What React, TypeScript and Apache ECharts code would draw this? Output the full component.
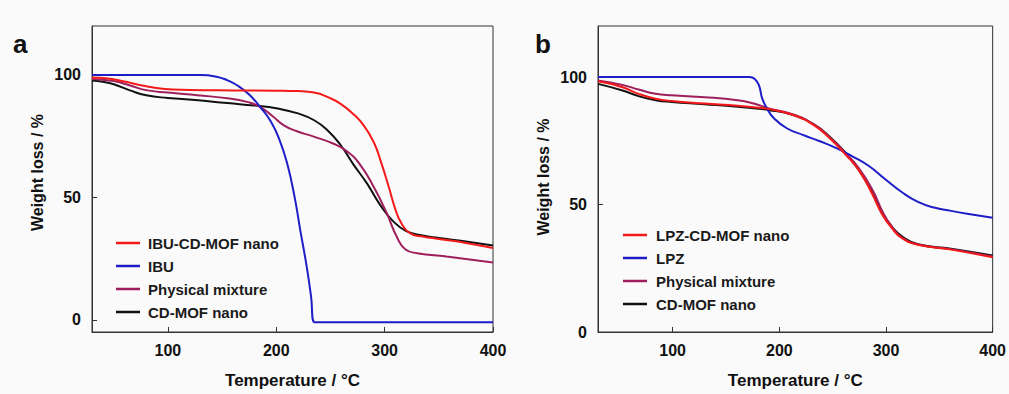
import React, { useEffect, useRef } from "react";
import * as echarts from "echarts";

const FONT = "'Liberation Sans', Arial, sans-serif";

const xTicks = [100, 200, 300, 400];
const yTicks = [0, 50, 100];

// Panel a
const ibuCdMof: [number, number][] = [[30,99],[45,98.6],[60,97.3],[75,95.8],[95,94.4],[120,93.9],[160,93.7],[200,93.6],[220,93.4],[235,92.8],[250,90.5],[260,88],[270,84.5],[280,79.8],[290,72.5],[297,64],[304,54],[310,45],[316,39],[324,35.2],[335,34],[350,33],[375,31.4],[400,29.3]];
const ibu: [number, number][] = [[30,100],[130,100],[145,99.3],[155,97.8],[165,95.5],[175,92],[185,87],[195,81],[203,73.5],[210,64],[217,50],[222,37],[228,22],[232,10],[235.5,-1],[400,-1]];
const physA: [number, number][] = [[30,98.4],[50,97.5],[65,95.7],[80,93.8],[100,92.8],[127,91.7],[157,90.4],[173,89],[185,87],[197,83],[207,79.4],[219,77],[234,74.9],[253,71.9],[265,68.9],[277,63.6],[290,54.2],[302,43.5],[311,34.1],[319,28.8],[330,27.2],[357,25.8],[400,23.4]];
const cdMofA: [number, number][] = [[30,97.7],[40,97.2],[50,96.2],[65,93.7],[80,91.7],[100,90.6],[125,89.8],[155,88.5],[180,87.5],[200,86.4],[220,84.3],[235,81.5],[247,77.5],[259,71.6],[271,63.6],[284,55.5],[296,46.8],[308,40.2],[320,36.2],[335,34.4],[350,33.4],[375,32],[400,30.3]];

// Panel b
const lpzCdMof: [number, number][] = [[30,98.3],[53,96],[68,93.4],[84,91.5],[99,90.6],[130,89.6],[161,88.7],[191,87.4],[213,85.1],[232,81.2],[247,76.1],[262,69.6],[275,63.2],[287,54.2],[296,46.4],[305.5,40.7],[315,36.8],[330,34.2],[361,32.3],[400,29.3]];
const lpz: [number, number][] = [[30,100],[172,100],[177,99.2],[181,96.6],[184,91.5],[188.5,87.6],[195,83.8],[207,79.9],[222,77.3],[238,74.8],[253,72.2],[268,69],[284,65.1],[299,60],[315,54.8],[330,51],[345,48.8],[361,47.5],[376,46.4],[400,44.8]];
const physB: [number, number][] = [[30,98.6],[53,96.9],[68,95.1],[84,93.4],[99,92.8],[130,92.1],[161,90.9],[176,89.6],[191,87.6],[213,85.3],[232,81.5],[247,76.5],[262,70.2],[275,64],[288,55.2],[297,47],[306,41],[315,37],[330,34.3],[361,32.5],[400,29.6]];
const cdMofB: [number, number][] = [[30,97.3],[53,94.7],[68,92.5],[84,90.9],[99,90.2],[130,89.3],[161,88.3],[191,87],[213,85.1],[232,81.5],[247,76.7],[262,70.3],[275,63.2],[287,54.8],[296,47.1],[305.5,41.3],[315,37.5],[330,34.4],[361,32.7],[400,30]];

const legendA = ["IBU-CD-MOF nano", "IBU", "Physical mixture", "CD-MOF nano"];
const legendB = ["LPZ-CD-MOF nano", "LPZ", "Physical mixture", "CD-MOF nano"];

const RED = "#f41a1a";
const BLUE = "#1e1ec8";
const MAROON = "#9e1f5c";
const BLACK = "#111111";

export default function App() {
  const ref = useRef<HTMLDivElement>(null);
  useEffect(() => {
    if (!ref.current) return;
    const chart = echarts.init(ref.current, undefined, { renderer: "svg" });
    const axisCommonX = (gi: number) => ({
      gridIndex: gi,
      type: "value",
      min: 30,
      max: 400,
      axisLine: { show: true, onZero: false, lineStyle: { color: "#333", width: 1 } },
      axisTick: { show: true, inside: true, length: 5, customValues: xTicks, lineStyle: { color: "#333" } },
      axisLabel: { customValues: xTicks, fontSize: 16, fontWeight: "bold", color: "#111", margin: 10, fontFamily: FONT },
      splitLine: { show: false },
      name: "Temperature / °C",
      nameLocation: "middle",
      nameGap: 40,
      nameTextStyle: { fontSize: 17, fontWeight: "bold", color: "#111", fontFamily: FONT },
    });
    const axisCommonY = (gi: number, min: number) => ({
      gridIndex: gi,
      type: "value",
      min,
      max: 120,
      axisLine: { show: true, onZero: false, lineStyle: { color: "#333", width: 1 } },
      axisTick: { show: true, inside: true, length: 5, customValues: yTicks, lineStyle: { color: "#333" } },
      axisLabel: { customValues: yTicks, fontSize: 16, fontWeight: "bold", color: "#111", margin: 11, fontFamily: FONT },
      splitLine: { show: false },
    });
    const line = (name: string, data: [number, number][], color: string, gi: number) => ({
      name,
      type: "line",
      xAxisIndex: gi,
      yAxisIndex: gi,
      data,
      showSymbol: false,
      symbol: "none",
      smooth: 0.5,
      color,
      lineStyle: { width: 2, color },
    });
    const legendCommon = {
      orient: "vertical",
      icon: "rect",
      itemWidth: 24,
      itemHeight: 2.5,
      itemGap: 5,
      selectedMode: false,
    };
    chart.setOption({
      animation: false,
      backgroundColor: "#fafafa",
      grid: [
        { left: 92, top: 26, width: 401, height: 311, show: true, borderColor: "#333", borderWidth: 1, backgroundColor: "transparent" },
        { left: 598, top: 26, width: 401, height: 311, show: true, borderColor: "#333", borderWidth: 1, backgroundColor: "transparent" },
      ],
      xAxis: [axisCommonX(0), axisCommonX(1)],
      yAxis: [axisCommonY(0, -5), axisCommonY(1, 0)],
      legend: [
        {
          ...legendCommon,
          left: 111,
          top: 229,
          data: legendA,
          textStyle: { fontSize: 15, fontWeight: "bold", color: "#1a1a1a", fontFamily: FONT, lineHeight: 18, padding: [0, 0, 0, 3] },
        },
        {
          ...legendCommon,
          left: 618,
          top: 221,
          data: legendB,
          textStyle: { fontSize: 15, fontWeight: "bold", color: "#1a1a1a", fontFamily: FONT, lineHeight: 18, padding: [0, 0, 0, 4] },
        },
      ],
      graphic: [
        { type: "text", x: 13, y: 57, style: { text: "a", font: `bold 26px ${FONT}`, fill: "#111", verticalAlign: "bottom" } },
        { type: "text", x: 535, y: 57, style: { text: "b", font: `bold 26px ${FONT}`, fill: "#111", verticalAlign: "bottom" } },
        { type: "text", x: 37, y: 172.5, rotation: Math.PI / 2, style: { text: "Weight loss / %", font: `bold 16px ${FONT}`, fill: "#111", align: "center", verticalAlign: "middle" } },
        { type: "text", x: 543, y: 177, rotation: Math.PI / 2, style: { text: "Weight loss / %", font: `bold 16px ${FONT}`, fill: "#111", align: "center", verticalAlign: "middle" } },
      ],
      series: [
        line("CD-MOF nano", cdMofA, BLACK, 0),
        line("Physical mixture", physA, MAROON, 0),
        line("IBU", ibu, BLUE, 0),
        line("IBU-CD-MOF nano", ibuCdMof, RED, 0),
        line("CD-MOF nano", cdMofB, BLACK, 1),
        line("Physical mixture", physB, MAROON, 1),
        line("LPZ", lpz, BLUE, 1),
        line("LPZ-CD-MOF nano", lpzCdMof, RED, 1),
      ],
    });
    return () => chart.dispose();
  }, []);
  return <div ref={ref} style={{ position: "fixed", left: 0, top: 0, width: 1009, height: 394 }} />;
}
